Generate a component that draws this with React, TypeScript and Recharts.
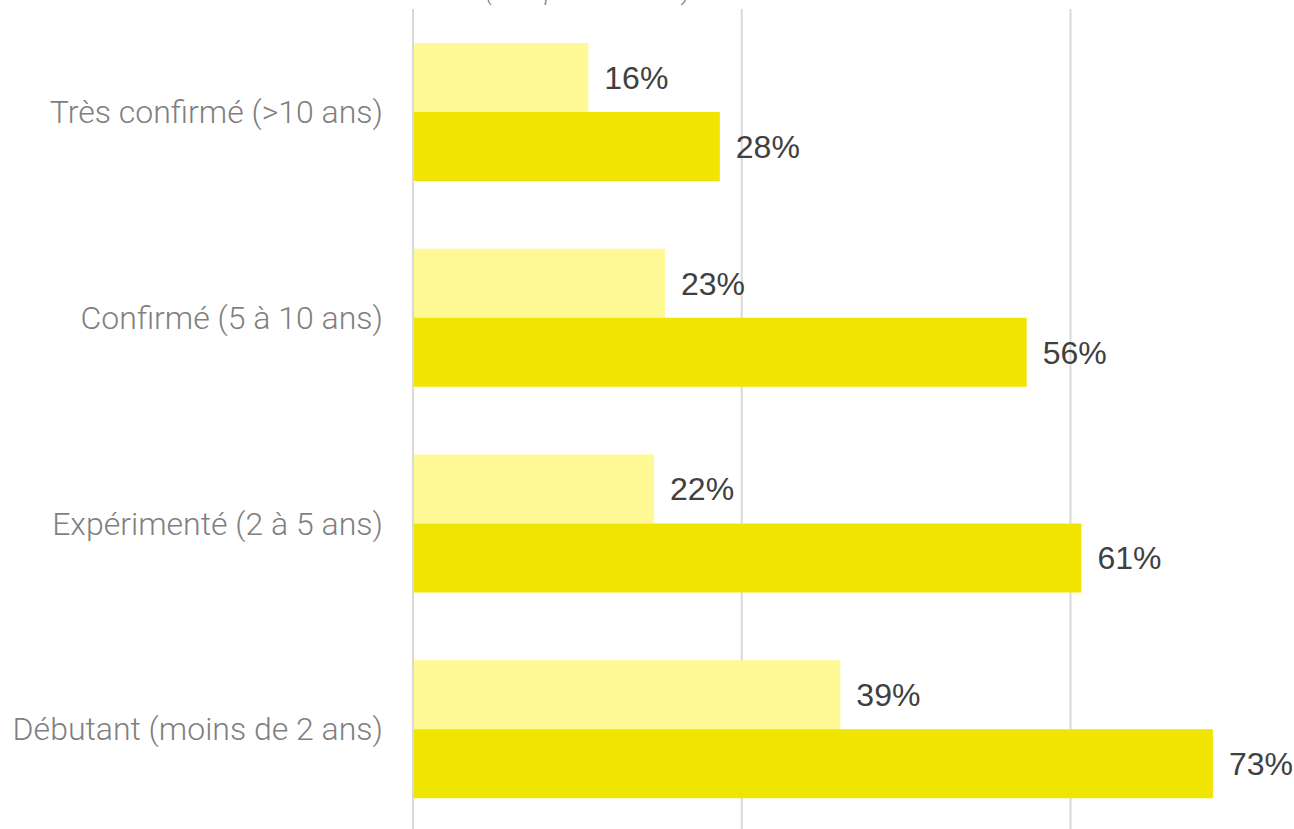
import { BarChart, Bar, XAxis, YAxis, CartesianGrid, LabelList } from "recharts";

const categories = [
  "Très confirmé (>10 ans)",
  "Confirmé (5 à 10 ans)",
  "Expérimenté (2 à 5 ans)",
  "Débutant (moins de 2 ans)",
];
const lightValues = [16, 23, 22, 39];
const darkValues = [28, 56, 61, 73];
const xTicks = [0, 30, 60];
const xDomain = [0, 80.4];

const data = categories.map((name, i) => ({
  name,
  light: lightValues[i],
  dark: darkValues[i],
}));

const labelStyle = {
  fill: "#404040",
  fontSize: 32,
  fontFamily: "'Liberation Sans', Arial, sans-serif",
};

// grid lines only at the tick values (no line at the right edge)
const gridX = (props: any) => {
  const scale = props?.xAxis?.scale;
  if (typeof scale === "function") return xTicks.map((t) => scale(t));
  if (scale && typeof scale.map === "function") return xTicks.map((t) => scale.map(t));
  const { left, width } = props.offset;
  return xTicks.map((t) => left + ((t - xDomain[0]) / (xDomain[1] - xDomain[0])) * width);
};

export default function App() {
  return (
    <div
      style={{
        position: "fixed",
        top: 0,
        left: 0,
        width: 1294,
        height: 829,
        overflow: "hidden",
        background: "#fff",
      }}
    >
      <div
        style={{
          position: "absolute",
          top: -22,
          left: 413,
          width: 350,
          textAlign: "center",
          fontFamily: "Roboto, sans-serif",
          fontWeight: 300,
          fontStyle: "italic",
          fontSize: 24,
          color: "#7f7f7f",
          whiteSpace: "nowrap",
        }}
      >
        (nb réponses = 184)
      </div>
      <BarChart
        width={1294}
        height={832}
        data={data}
        layout="vertical"
        margin={{ top: 9, right: 0, bottom: 0, left: 0 }}
        barGap={0}
        barSize={69}
      >
        <CartesianGrid
          horizontal={false}
          stroke="#d9d9d9"
          strokeWidth={2}
          verticalCoordinatesGenerator={gridX}
        />
        <XAxis type="number" domain={xDomain} ticks={xTicks} hide />
        <YAxis
          type="category"
          dataKey="name"
          width={413}
          axisLine={{ stroke: "#d9d9d9", strokeWidth: 2 }}
          tickLine={false}
          tickMargin={24}
          tick={{
            fill: "#7f7f7f",
            fontSize: 32,
            fontFamily: "Roboto, sans-serif",
            fontWeight: 300,
          }}
        />
        <Bar dataKey="light" fill="#fef994" isAnimationActive={false}>
          <LabelList
            dataKey="light"
            position="right"
            offset={16}
            formatter={(v: number) => `${v}%`}
            style={labelStyle}
          />
        </Bar>
        <Bar dataKey="dark" fill="#f0e500" isAnimationActive={false}>
          <LabelList
            dataKey="dark"
            position="right"
            offset={16}
            formatter={(v: number) => `${v}%`}
            style={labelStyle}
          />
        </Bar>
      </BarChart>
    </div>
  );
}
